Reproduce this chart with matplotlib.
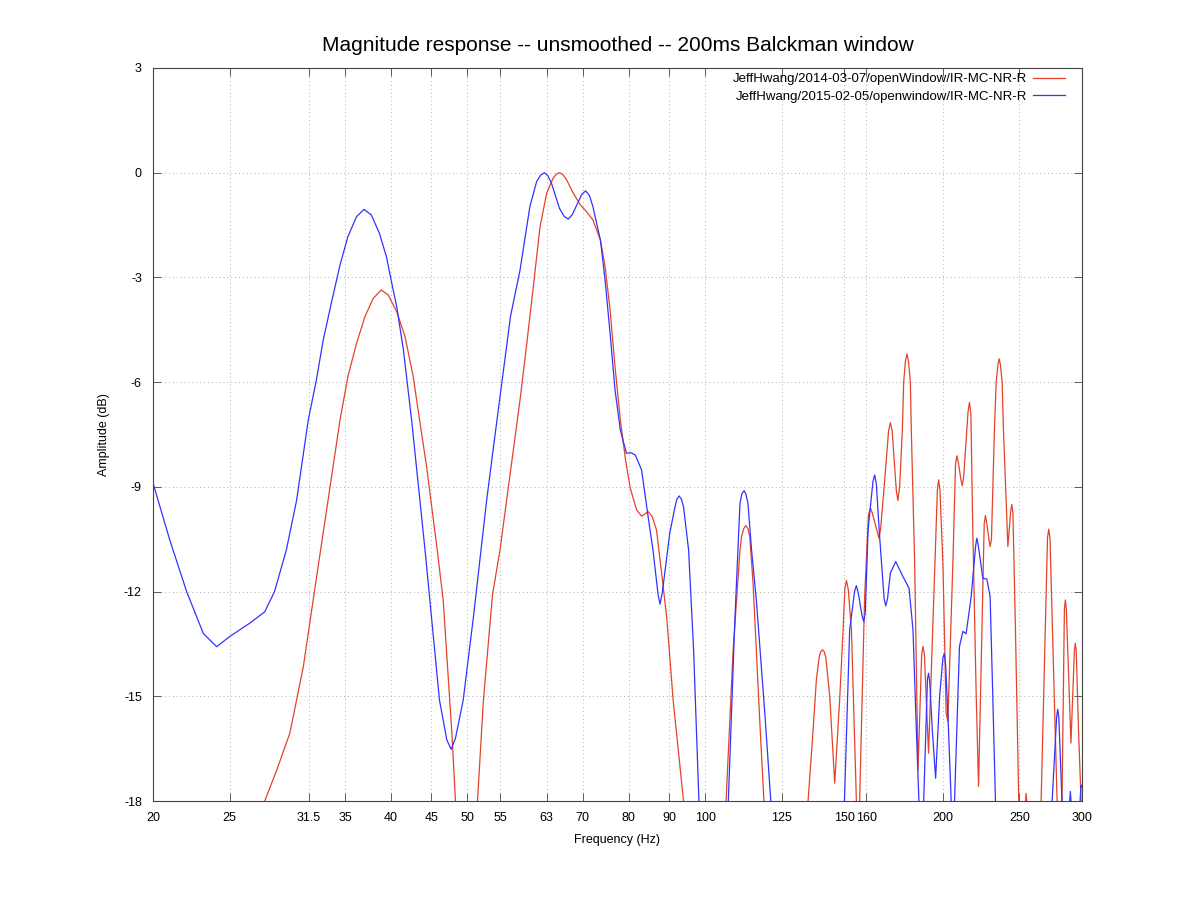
"""Magnitude response of two in-room measurements (unsmoothed, 200 ms Blackman window)."""
import matplotlib
matplotlib.use("Agg")
import matplotlib.pyplot as plt
from matplotlib.ticker import NullLocator

plt.rcParams["font.family"] = ["Liberation Sans", "DejaVu Sans"]

# values (Hz, dB); points below -18 dB are off-scale
red_freq = [27.0, 27.7, 28.7, 29.8, 31.0, 31.9, 33.2, 34.5, 35.3, 36.2, 37.1, 38.0,
            38.9, 39.7, 40.7, 41.7, 42.7, 43.5, 44.4, 45.8, 46.6, 47.8, 48.3, 48.8,
            51.0, 51.5, 52.4, 53.8, 55.0, 58.3, 59.4, 60.6, 61.8, 63.0, 64.2, 64.8,
            65.4, 66.1, 66.8, 68.1, 69.5, 70.8, 72.1, 73.7, 74.7, 75.8, 76.9, 78.1,
            79.3, 80.4, 81.9, 83.1, 84.7, 85.7, 86.8, 89.4, 91.1, 93.9, 95.0, 105.0,
            106.3, 108.5, 110.7, 111.2, 111.9, 112.6, 113.3, 113.9, 115.0, 117.2, 118.7,
            119.5, 134.0, 135.0, 137.0, 138.3, 139.5, 140.1, 140.8, 141.5, 142.2, 143.8,
            145.9, 148.1, 149.5, 150.3, 151.0, 151.8, 153.2, 155.4, 156.1, 156.9, 159.2,
            161.0, 161.9, 162.8, 165.2, 166.0, 166.8, 168.8, 170.7, 171.6, 172.5, 174.6,
            175.4, 176.3, 177.7, 178.4, 179.3, 180.1, 180.9, 181.9, 182.4, 184.2, 186.0,
            188.0, 188.7, 189.5, 191.8, 196.8, 197.5, 198.3, 200.0, 201.9, 202.9, 205.9,
            207.5, 208.3, 209.2, 210.8, 211.6, 212.5, 215.2, 216.1, 217.0, 218.2, 220.4,
            221.9, 223.6, 225.6, 226.4, 227.3, 228.7, 229.5, 230.4, 232.4, 233.6, 234.8,
            235.6, 236.5, 237.7, 238.6, 241.7, 243.7, 244.5, 245.3, 247.1, 249.5, 251.0,
            253.5, 254.9, 256.3, 264.0, 266.3, 271.3, 272.3, 273.3, 276.0, 279.0, 281.0,
            283.0, 285.0, 285.8, 286.6, 290.5, 293.4, 294.2, 295.0, 297.0, 299.2, 300.0]
red_db = [-20.0, -18.0, -17.1, -16.06, -14.15, -12.24, -9.6, -7.08, -5.84, -4.89, -4.12, -3.6,
          -3.36, -3.5, -3.98, -4.70, -5.84, -7.08, -8.42, -10.81, -12.24, -16.06, -18.0, -21.0,
          -21.0, -18.0, -15.11, -12.1, -10.8, -6.51, -4.98, -3.27, -1.55, -0.59, -0.16, -0.04,
          0.0, -0.06, -0.21, -0.59, -0.92, -1.12, -1.35, -1.93, -2.69, -3.93, -5.56, -7.08,
          -8.23, -9.04, -9.66, -9.84, -9.71, -9.85, -10.24, -12.72, -15.11, -18.0, -20.0, -21.0,
          -18.0, -13.68, -10.81, -10.43, -10.2, -10.11, -10.2, -10.43, -11.76, -15.59, -18.0,
          -21.0, -21.0, -18.0, -15.96, -14.53, -13.85, -13.72, -13.67, -13.72, -13.9, -15.0,
          -17.49, -15.0, -13.1, -11.9, -11.68, -11.95, -13.1, -18.0, -19.5, -18.0, -12.14,
          -9.8, -9.61, -9.75, -10.3, -10.47, -10.2, -8.80, -7.4, -7.16, -7.4, -9.1,
          -9.39, -9.0, -7.37, -6.0, -5.4, -5.19, -5.4, -6.0, -7.37, -11.19, -17.1,
          -13.8, -13.57, -13.8, -16.63, -9.1, -8.80, -9.1, -11.19, -15.48, -15.72, -11.19,
          -8.35, -8.11, -8.3, -8.8, -8.97, -8.7, -6.85, -6.58, -6.9, -10.23, -15.0,
          -17.58, -14.05, -10.05, -9.82, -10.05, -10.5, -10.71, -10.5, -7.37, -6.0, -5.5,
          -5.33, -5.5, -6.0, -7.37, -10.71, -9.7, -9.50, -9.75, -13.1, -18.0, -20.0,
          -18.5, -17.78, -18.5, -21.0, -18.0, -10.45, -10.21, -10.5, -14.05, -18.0, -19.5,
          -18.0, -12.5, -12.24, -12.5, -16.34, -13.7, -13.48, -13.7, -16.0, -18.0, -18.5]

blue_freq = [20.0, 21.0, 22.06, 23.16, 24.08, 25.0, 26.5, 27.7, 28.5, 29.5, 30.4, 31.45,
             32.2, 32.85, 33.7, 34.5, 35.3, 36.2, 37.0, 37.8, 38.7, 39.5, 40.0, 40.7,
             41.5, 42.5, 44.2, 46.1, 47.1, 47.7, 48.3, 49.4, 50.9, 52.9, 53.9, 56.7,
             58.3, 59.2, 60.0, 61.2, 61.9, 62.6, 63.2, 63.9, 65.4, 66.3, 67.1, 67.9,
             68.8, 69.8, 70.6, 71.4, 72.1, 73.7, 74.7, 75.8, 76.9, 78.1, 79.5, 80.5,
             81.6, 83.1, 84.7, 85.9, 87.2, 87.7, 88.3, 90.2, 91.6, 92.1, 92.7, 93.3,
             93.9, 95.3, 96.7, 98.2, 99.5, 105.5, 107.0, 109.1, 110.7, 111.3, 112.0,
             112.6, 113.3, 114.5, 116.1, 119.1, 121.1, 122.5, 148.5, 150.1, 152.4, 154.6,
             155.4, 156.3, 158.0, 158.8, 159.5, 160.8, 163.1, 163.9, 164.7, 166.3, 168.5,
             169.3, 170.2, 171.6, 174.3, 178.0, 181.2, 183.3, 185.1, 186.5, 187.8, 189.1,
             191.2, 191.8, 192.5, 193.9, 195.8, 198.1, 200.0, 200.8, 201.6, 202.9, 204.9,
             205.9, 206.9, 209.9, 212.0, 214.0, 217.2, 220.0, 220.8, 221.8, 224.7, 227.3,
             229.5, 231.3, 233.1, 234.5, 273.5, 275.0, 278.6, 279.5, 280.4, 283.0, 285.0,
             288.5, 290.0, 291.5, 297.5, 299.1, 300.0]
blue_db = [-8.89, -10.52, -12.0, -13.2, -13.58, -13.29, -12.91, -12.58, -12.0, -10.81, -9.38, -7.08,
           -5.94, -4.79, -3.65, -2.64, -1.83, -1.26, -1.05, -1.21, -1.74, -2.41, -3.03, -3.84,
           -5.08, -7.08, -10.81, -15.11, -16.25, -16.52, -16.2, -15.11, -12.72, -9.38, -7.94, -4.12,
           -2.79, -1.83, -0.97, -0.25, -0.07, 0.0, -0.08, -0.30, -1.02, -1.25, -1.33, -1.2,
           -0.92, -0.62, -0.52, -0.66, -0.97, -1.93, -3.07, -4.6, -6.22, -7.37, -8.04, -8.02,
           -8.09, -8.52, -9.86, -10.81, -12.1, -12.36, -12.0, -10.33, -9.57, -9.35, -9.26, -9.35,
           -9.57, -10.81, -13.68, -17.97, -22.0, -22.0, -18.0, -12.72, -9.47, -9.2, -9.11,
           -9.2, -9.47, -10.81, -12.24, -15.59, -18.0, -21.0, -21.0, -18.0, -13.1, -12.0,
           -11.83, -12.05, -12.7, -12.86, -12.6, -10.23, -8.85, -8.66, -8.9, -10.42, -12.2,
           -12.41, -12.2, -11.47, -11.14, -11.57, -11.9, -13.1, -15.96, -18.0, -19.5, -18.0,
           -14.5, -14.34, -14.6, -15.96, -17.35, -15.0, -13.9, -13.78, -14.1, -15.48, -18.0,
           -19.5, -18.0, -13.57, -13.14, -13.21, -12.14, -10.7, -10.47, -10.7, -11.62, -11.64,
           -12.14, -15.0, -18.0, -21.0, -21.0, -18.0, -15.6, -15.37, -15.6, -18.0, -21.0,
           -18.5, -17.73, -18.5, -18.5, -17.54, -17.6]

xticks = [20, 25, 31.5, 35, 40, 45, 50, 55, 63, 70, 80, 90, 100, 125, 150, 160, 200, 250, 300]
xtick_labels = ["20", "25", "31.5", "35", "40", "45", "50", "55", "63", "70", "80", "90",
                "100", "125", "150", "160", "200", "250", "300"]
yticks = [-18, -15, -12, -9, -6, -3, 0, 3]

fig = plt.figure(figsize=(11.98, 8.98), dpi=100)
ax = fig.add_axes([153 / 1198, 97 / 898, 929 / 1198, 733 / 898])

ax.plot(red_freq, red_db, color="#e4432a", lw=0.9,
        label="JeffHwang/2014-03-07/openWindow/IR-MC-NR-R")
ax.plot(blue_freq, blue_db, color="#3333ff", lw=0.9,
        label="JeffHwang/2015-02-05/openwindow/IR-MC-NR-R")

ax.set_xscale("log")
ax.set_xlim(20, 300)
ax.set_ylim(-18, 3)
ax.set_xticks(xticks)
ax.set_xticklabels(xtick_labels)
ax.xaxis.set_minor_locator(NullLocator())
ax.set_yticks(yticks)
ax.set_yticklabels([str(v) for v in yticks])

ax.tick_params(direction="in", length=6, width=0.6, color="#444444", labelsize=9,
               top=True, right=True, pad=8)
ax.grid(True, ls=(0, (1, 3)), color="#b0b0b0", lw=0.7)
for s in ax.spines.values():
    s.set_color("#444444"); s.set_linewidth(0.8)

ax.set_title("Magnitude response -- unsmoothed -- 200ms Balckman window", fontsize=15, pad=12)
ax.set_xlabel("Frequency (Hz)", fontsize=9, labelpad=7)
ax.set_ylabel("Amplitude (dB)", fontsize=9, labelpad=10)

ax.legend(loc="upper right", bbox_to_anchor=(1 - 17 / 929, 1 - 5 / 733), frameon=False,
          markerfirst=False, fontsize=9.5, handlelength=2.4, handletextpad=0.5,
          borderpad=0, borderaxespad=0, labelspacing=0.4)

fig.savefig("out.png", dpi=100)
